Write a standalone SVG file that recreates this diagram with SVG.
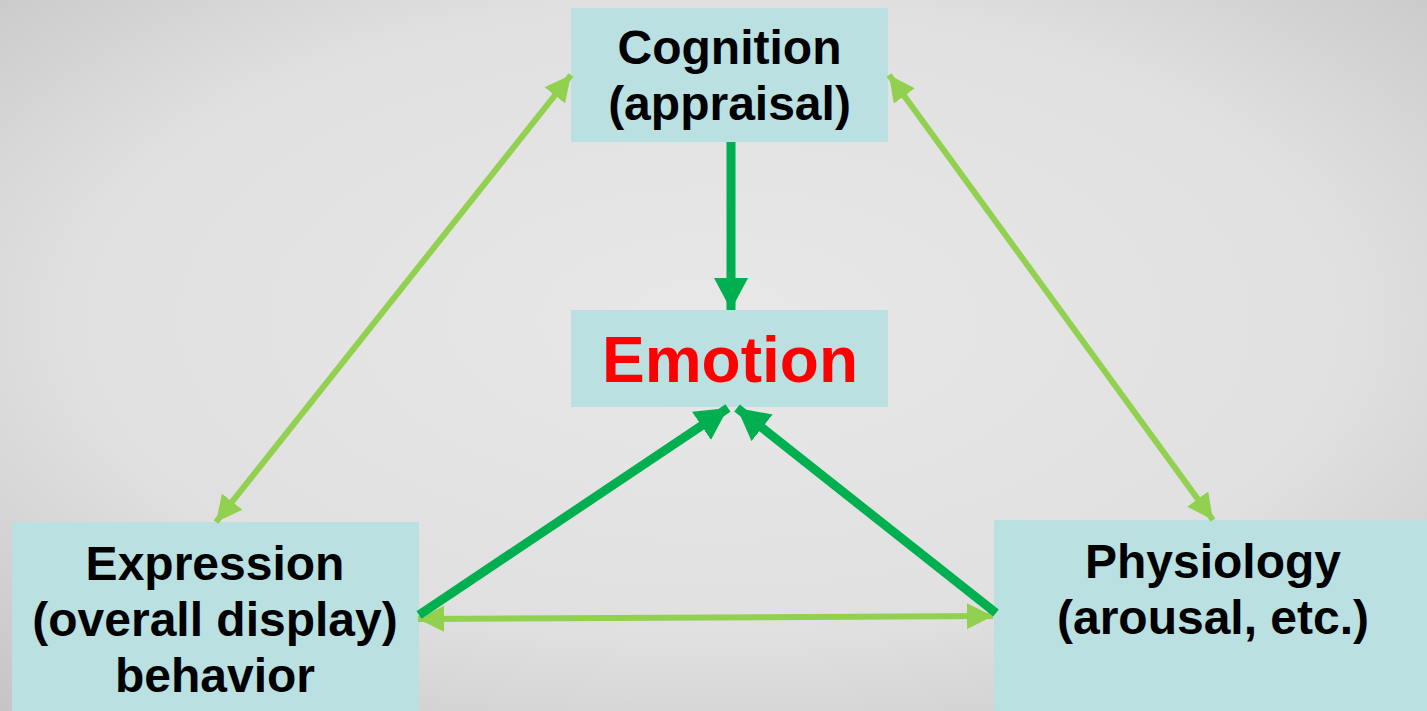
<svg xmlns="http://www.w3.org/2000/svg" width="1427" height="711" viewBox="0 0 1427 711">
  <defs>
    <radialGradient id="bg" cx="0.5" cy="0.45" r="0.75">
      <stop offset="0" stop-color="#e8e8e8"/>
      <stop offset="0.6" stop-color="#e0e0e0"/>
      <stop offset="1" stop-color="#c4c4c4"/>
    </radialGradient>
    <marker id="headLight" markerUnits="userSpaceOnUse" markerWidth="28" markerHeight="26" refX="26" refY="13" orient="auto-start-reverse">
      <path d="M0,0 L26,13 L0,26 Z" fill="#92d050"/>
    </marker>
    <marker id="headDark" markerUnits="userSpaceOnUse" markerWidth="34" markerHeight="34" refX="32" refY="17" orient="auto">
      <path d="M0,0 L32,17 L0,34 Z" fill="#00b050"/>
    </marker>
    <style>
      .box { fill: #bae0e2; }
      .lbl { font-family: "Liberation Sans", Arial, sans-serif; font-weight: bold; font-size: 48px; fill: #000; text-anchor: middle; }
      .emo { font-size: 64px; fill: #ff0000; }
      .light { stroke: #92d050; stroke-width: 6; fill: none; marker-start: url(#headLight); marker-end: url(#headLight); }
      .dark { stroke: #00b050; stroke-width: 9; fill: none; marker-end: url(#headDark); }
    </style>
  </defs>

  <rect width="1427" height="711" fill="url(#bg)"/>

  <g id="cognition">
    <rect class="box" x="571" y="8" width="317" height="134"/>
    <text class="lbl" x="729.5" y="64">Cognition</text>
    <text class="lbl" x="729.5" y="120">(appraisal)</text>
  </g>

  <g id="emotion">
    <rect class="box" x="571" y="310" width="317" height="97"/>
    <text class="lbl emo" x="730" y="382">Emotion</text>
  </g>

  <g id="expression">
    <rect class="box" x="12" y="522" width="407" height="189"/>
    <text class="lbl" x="215" y="580">Expression</text>
    <text class="lbl" x="215" y="636">(overall display)</text>
    <text class="lbl" x="215" y="692">behavior</text>
  </g>

  <g id="physiology">
    <rect class="box" x="994" y="520" width="433" height="191"/>
    <text class="lbl" x="1213" y="578">Physiology</text>
    <text class="lbl" x="1213" y="634">(arousal, etc.)</text>
  </g>

  <g id="connectors">
    <line class="light" x1="571" y1="75" x2="216" y2="522"/>
    <line class="light" x1="889" y1="75" x2="1213" y2="520"/>
    <line class="light" x1="418" y1="619" x2="993" y2="616"/>
    <line class="dark" x1="731" y1="142" x2="731" y2="310"/>
    <line class="dark" x1="419" y1="615" x2="728" y2="408"/>
    <line class="dark" x1="996" y1="613" x2="737" y2="408"/>
  </g>
</svg>
